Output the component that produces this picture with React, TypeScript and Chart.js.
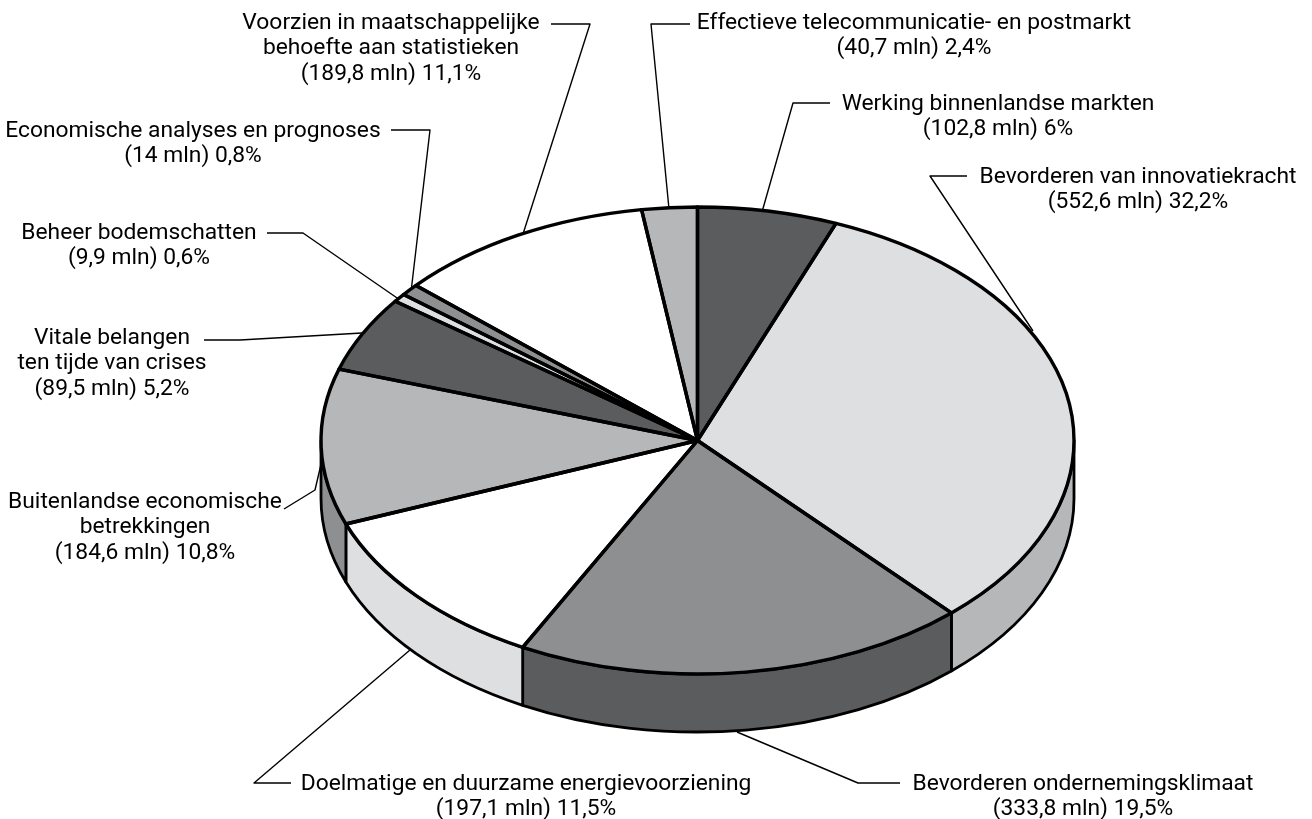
import React, { useEffect, useRef } from "react";
import { Chart, registerables } from "chart.js";

Chart.register(...registerables);

const categories = [
  "Werking binnenlandse markten",
  "Bevorderen van innovatiekracht",
  "Bevorderen ondernemingsklimaat",
  "Doelmatige en duurzame energievoorziening",
  "Buitenlandse economische betrekkingen",
  "Vitale belangen ten tijde van crises",
  "Beheer bodemschatten",
  "Economische analyses en prognoses",
  "Voorzien in maatschappelijke behoefte aan statistieken",
  "Effectieve telecommunicatie- en postmarkt",
];
const valuesMln = [102.8, 552.6, 333.8, 197.1, 184.6, 89.5, 9.9, 14, 189.8, 40.7];
const topColors = ["#5b5c5e", "#dedfe1", "#8e8f91", "#ffffff", "#b6b7b9", "#5b5c5e", "#dedfe1", "#8e8f91", "#ffffff", "#b6b7b9"];
const sideColors = ["#5b5c5e", "#b6b7b9", "#5b5c5e", "#dedfe1", "#8e8f91", "#5b5c5e", "#dedfe1", "#8e8f91", "#ffffff", "#b6b7b9"];

const labelLines = [
  ["Werking binnenlandse markten", "(102,8 mln) 6%"],
  ["Bevorderen van innovatiekracht", "(552,6 mln) 32,2%"],
  ["Bevorderen ondernemingsklimaat", "(333,8 mln) 19,5%"],
  ["Doelmatige en duurzame energievoorziening", "(197,1 mln) 11,5%"],
  ["Buitenlandse economische", "betrekkingen", "(184,6 mln) 10,8%"],
  ["Vitale belangen", "ten tijde van crises", "(89,5 mln) 5,2%"],
  ["Beheer bodemschatten", "(9,9 mln) 0,6%"],
  ["Economische analyses en prognoses", "(14 mln) 0,8%"],
  ["Voorzien in maatschappelijke", "behoefte aan statistieken", "(189,8 mln) 11,1%"],
  ["Effectieve telecommunicatie- en postmarkt", "(40,7 mln) 2,4%"],
];

// Layout only: where each label block sits and how its leader runs
const labelAnchors: [number, number][] = [
  [998, 104], [1138, 177], [1083, 784], [526, 784], [145, 502],
  [112, 338], [139, 233], [193, 131], [391, 23], [914, 23],
];
const leaders: [number, number][][] = [
  [[830, 103], [793, 103], [762, 212]],
  [[967, 176], [930, 176], [1033, 331]],
  [[900, 783], [858, 783], [737, 732]],
  [[291, 783], [254, 783], [410, 650]],
  [[284, 509], [315, 490], [322, 460]],
  [[204, 340], [240, 340], [362, 333]],
  [[267, 233], [303, 233], [400, 300]],
  [[391, 130], [430, 130], [411, 292]],
  [[551, 24], [590, 24], [523, 234]],
  [[690, 24], [651, 24], [669, 209]],
];

const WIDTH = 1312;
const HEIGHT = 819;
const CX = 697.5;
const CY = 440.5;
const RX = 376.5;
const RY = 233.5;
const DEPTH = 58;
const SQUASH = RY / RX;
const LINE_GAP = 25.5;
const FONT = '22.8px Roboto';

const pie3d = {
  id: "pie3d",
  beforeDatasetsDraw(chart: any) {
    const { ctx } = chart;
    const arcs = chart.getDatasetMeta(0).data;
    ctx.save();
    ctx.lineJoin = "round";
    ctx.strokeStyle = "#000";
    ctx.lineWidth = 1.4;
    leaders.forEach((pts) => {
      ctx.beginPath();
      pts.forEach(([x, y], i) => (i ? ctx.lineTo(x, y) : ctx.moveTo(x, y)));
      ctx.stroke();
    });
    ctx.lineWidth = 2.8;
    arcs.forEach((arc: any, i: number) => {
      const a0 = Math.max(arc.startAngle, 0);
      const a1 = Math.min(arc.endAngle, Math.PI);
      if (a1 <= a0) return;
      ctx.beginPath();
      ctx.ellipse(CX, CY, RX, RY, 0, a0, a1);
      ctx.ellipse(CX, CY + DEPTH, RX, RY, 0, a1, a0, true);
      ctx.closePath();
      ctx.fillStyle = sideColors[i];
      ctx.fill();
      ctx.stroke();
    });
    ctx.restore();
    ctx.save();
    ctx.translate(CX, CY);
    ctx.scale(1, SQUASH);
    ctx.translate(-arcs[0].x, -arcs[0].y);
  },
  afterDatasetsDraw(chart: any) {
    const { ctx } = chart;
    ctx.restore();
    const arcs = chart.getDatasetMeta(0).data;
    ctx.save();
    ctx.strokeStyle = "#000";
    ctx.lineWidth = 3.4;
    ctx.lineJoin = "round";
    arcs.forEach((arc: any) => {
      ctx.beginPath();
      ctx.moveTo(CX, CY);
      ctx.ellipse(CX, CY, RX, RY, 0, arc.startAngle, arc.endAngle);
      ctx.closePath();
      ctx.stroke();
    });
    ctx.restore();
  },
  afterDraw(chart: any) {
    const { ctx } = chart;
    ctx.save();
    ctx.font = FONT;
    ctx.fillStyle = "#000";
    ctx.textAlign = "center";
    ctx.textBaseline = "middle";
    labelLines.forEach((lines, i) => {
      const [x, y] = labelAnchors[i];
      lines.forEach((t, j) => ctx.fillText(t, x, y + j * LINE_GAP));
    });
    ctx.restore();
  },
};

export default function App() {
  const ref = useRef<HTMLCanvasElement>(null);
  useEffect(() => {
    document.body.style.margin = "0";
    const chart = new Chart(ref.current!, {
      type: "pie",
      data: {
        labels: categories,
        datasets: [{ data: valuesMln, backgroundColor: topColors, borderWidth: 0, clip: false } as any],
      },
      options: {
        responsive: false,
        animation: false,
        radius: RX,
        layout: { padding: 0 },
        plugins: { legend: { display: false }, tooltip: { enabled: false } },
      } as any,
      plugins: [pie3d],
    });
    return () => chart.destroy();
  }, []);
  return <canvas ref={ref} width={WIDTH} height={HEIGHT} style={{ display: "block" }} />;
}
